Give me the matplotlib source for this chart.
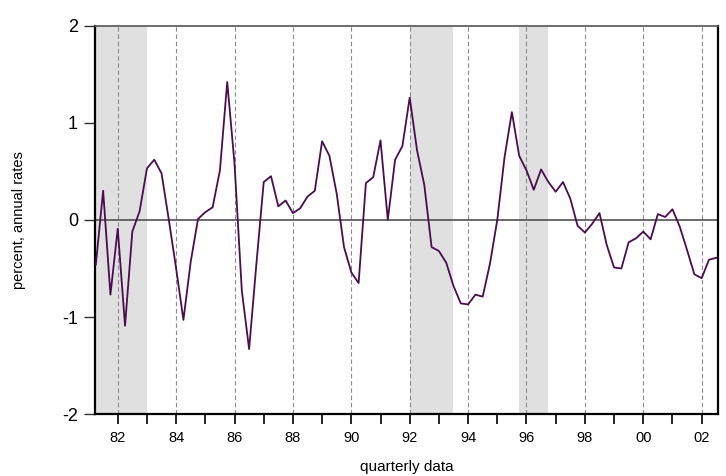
import numpy as np
import matplotlib
matplotlib.use("Agg")
import matplotlib.pyplot as plt

# quarterly series, 1981Q2 .. 2002Q3
start_year = 1981.25
values = [
    -0.46, 0.30, -0.77, -0.09, -1.09, -0.12, 0.09, 0.53,
    0.62, 0.48, 0.00, -0.50, -1.03, -0.43, 0.01, 0.08,
    0.13, 0.51, 1.42, 0.58, -0.73, -1.33, -0.45, 0.39,
    0.45, 0.14, 0.20, 0.07, 0.12, 0.24, 0.30, 0.81,
    0.66, 0.27, -0.28, -0.54, -0.65, 0.38, 0.44, 0.82,
    0.00, 0.62, 0.76, 1.26, 0.72, 0.36, -0.28, -0.32,
    -0.44, -0.68, -0.86, -0.87, -0.77, -0.79, -0.45, 0.00,
    0.65, 1.11, 0.66, 0.51, 0.31, 0.52, 0.39, 0.29,
    0.39, 0.22, -0.06, -0.13, -0.04, 0.07, -0.26, -0.49,
    -0.50, -0.23, -0.19, -0.12, -0.20, 0.06, 0.03, 0.11,
    -0.07, -0.31, -0.56, -0.60, -0.41, -0.39,
]

# shaded periods (start, end) in years
shade_periods = [(1981.0, 1983.0), (1992.0, 1993.5), (1995.75, 1996.75)]

major_years = list(range(1982, 2003, 2))
minor_years = list(range(1983, 2003, 2))
xtick_labels = ["%02d" % (y % 100) for y in major_years]
yticks = [-2, -1, 0, 1, 2]

plt.rcParams['font.family'] = ['Liberation Sans', 'DejaVu Sans']

x = start_year + np.arange(len(values)) / 4.0

fig = plt.figure(figsize=(7.26, 4.76), dpi=100)
ax = fig.add_axes([0.1304, 0.130, 0.8586, 0.816])

for a, b in shade_periods:
    ax.axvspan(a, b, color='#e0e0e0', lw=0, zorder=0)

for yr in major_years:
    ax.axvline(yr, color='#8c8c8c', lw=0.8, ls=(0, (4, 2.5)), zorder=1)

ax.axhline(0, color='#505050', lw=1.2, zorder=2)
ax.plot(x, values, color='#4a0d4f', lw=1.3, zorder=3)

ax.set_xlim(1981.21, 2002.56)
ax.set_ylim(-2, 2)

ax.set_xticks(major_years)
ax.set_xticklabels(xtick_labels, fontsize=10.5)
ax.set_xticks(minor_years, minor=True)
ax.set_yticks(yticks)
ax.set_yticklabels([str(v) for v in yticks], fontsize=13)

ax.tick_params(axis='x', which='both', direction='out', length=7, width=1.2,
               color='black', pad=5)
ax.tick_params(axis='y', direction='out', length=8, width=1.0,
               color='#333333', pad=4)

for side in ['left', 'bottom', 'right']:
    ax.spines[side].set_linewidth(1.6)
    ax.spines[side].set_color('black')
ax.spines['top'].set_linewidth(1.2)
ax.spines['top'].set_color('#555555')

ax.set_xlabel("quarterly data", fontsize=11, labelpad=11)
ax.set_ylabel("percent, annual rates", fontsize=10.5, labelpad=26)

fig.savefig("out.png", dpi=100)
